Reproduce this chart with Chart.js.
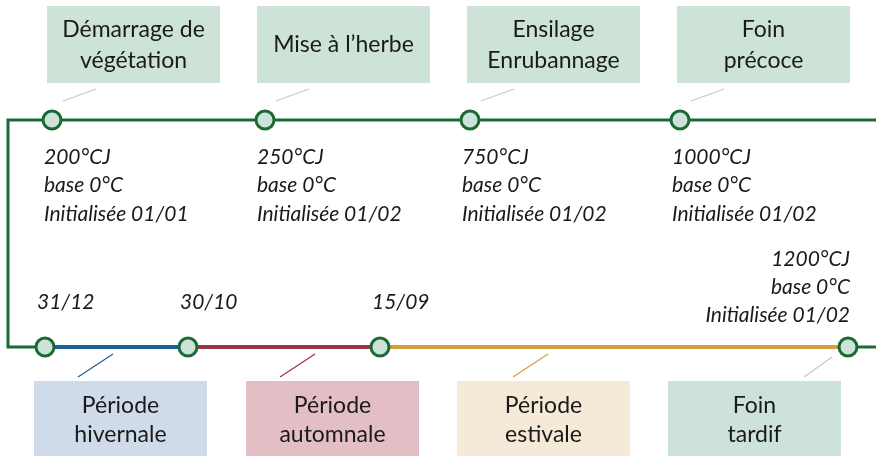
<!DOCTYPE html>
<html><head><meta charset="utf-8">
<script src="https://cdn.jsdelivr.net/npm/chart.js@4/dist/chart.umd.min.js"></script>
<style>html,body{margin:0;padding:0;background:#fff}#wrap{width:876px;height:456px}</style>
</head><body><div id="wrap"><canvas id="c" width="876" height="456"></canvas></div>
<script>
// Timeline milestones (positions along the timeline axis)
const topLabels = [["Démarrage de","végétation"],["Mise à l’herbe"],["Ensilage","Enrubannage"],["Foin","précoce"]];
const topPos = [52, 265, 470, 680];
const topSums = ["200°CJ","250°CJ","750°CJ","1000°CJ"];
const topBase = ["base 0°C","base 0°C","base 0°C","base 0°C"];
const topInit = ["Initialisée 01/01","Initialisée 01/02","Initialisée 01/02","Initialisée 01/02"];

const bottomPos = [45, 188, 380, 848];
const bottomDates = ["31/12","30/10","15/09"];
const lastInfo = ["1200°CJ","base 0°C","Initialisée 01/02"];
const periodLabels = [["Période","hivernale"],["Période","automnale"],["Période","estivale"],["Foin","tardif"]];
const periodColors = ["#1f5e99","#9c3343","#d19f3e"];
const periodFills = ["#cfdbe8","#e3bec5","#f5ead7","#cde3d9"];

const TOP_Y = 120, BOT_Y = 347, LEFT_X = 8, END_X = 876;
const GREEN = "#1b6a36", NODE_FILL = "#cde3d8", TEXT = "#1a1a1a";

const datasets = [];
// nodes (drawn on top)
datasets.push({order:0,data:topPos.map(x=>({x,y:TOP_Y})).concat(bottomPos.map(x=>({x,y:BOT_Y}))),
  showLine:false,pointRadius:9,pointHoverRadius:9,pointBackgroundColor:NODE_FILL,pointBorderColor:GREEN,pointBorderWidth:3});
// main green path
datasets.push({order:1,data:[{x:bottomPos[0],y:BOT_Y},{x:LEFT_X,y:BOT_Y},{x:LEFT_X,y:TOP_Y},{x:END_X,y:TOP_Y}],
  borderColor:GREEN,borderWidth:3,pointRadius:0,showLine:true,fill:false,tension:0,borderJoinStyle:'miter'});
for(let i=0;i<3;i++){
  datasets.push({order:1,data:[{x:bottomPos[i],y:BOT_Y},{x:bottomPos[i+1],y:BOT_Y}],borderColor:periodColors[i],borderWidth:4,pointRadius:0,showLine:true});
}
datasets.push({order:1,data:[{x:bottomPos[3],y:BOT_Y},{x:END_X,y:BOT_Y}],borderColor:GREEN,borderWidth:3,pointRadius:0,showLine:true});

const BOX_W = 173, BOX_H = 77;
const topOff=[-5,-8,-3,-3];
const boxL=[34,246,457,668];
const decor = {
  id:'decor',
  beforeDatasetsDraw(chart){
    const ctx=chart.ctx, xs=chart.scales.x, ys=chart.scales.y;
    ctx.save();
    topPos.forEach((p,i)=>{
      const x=xs.getPixelForValue(p)+topOff[i], y=ys.getPixelForValue(6);
      ctx.fillStyle=NODE_FILL; ctx.fillRect(x,y,BOX_W,BOX_H);
      const cx=xs.getPixelForValue(p);
      ctx.strokeStyle="#c8c8c8"; ctx.lineWidth=1.2;
      ctx.beginPath(); ctx.moveTo(cx+11,ys.getPixelForValue(101)); ctx.lineTo(cx+44,ys.getPixelForValue(89)); ctx.stroke();
    });
    const conn=[[113,78],[315,280],[548,513],[832,804]];
    const connC=periodColors.concat(["#c8c8c8"]);
    boxL.forEach((l,i)=>{
      const x=xs.getPixelForValue(l), y=ys.getPixelForValue(381);
      ctx.fillStyle=periodFills[i]; ctx.fillRect(x,y,BOX_W,BOX_H);
      ctx.strokeStyle=connC[i]; ctx.lineWidth=1.2;
      ctx.beginPath(); ctx.moveTo(xs.getPixelForValue(conn[i][0]),ys.getPixelForValue(i===3?357:354));
      ctx.lineTo(xs.getPixelForValue(conn[i][1]),ys.getPixelForValue(377)); ctx.stroke();
    });
    ctx.restore();
  },
  afterDatasetsDraw(chart){
    const ctx=chart.ctx, xs=chart.scales.x, ys=chart.scales.y;
    ctx.save();
    ctx.fillStyle=TEXT; ctx.textBaseline='middle';
    ctx.font='23px Lato'; ctx.textAlign='center';
    topPos.forEach((p,i)=>{
      const cx=xs.getPixelForValue(p)+topOff[i]+BOX_W/2;
      const lines=topLabels[i];
      const ys0 = lines.length===2?[30,61]:[45];
      lines.forEach((t,k)=>ctx.fillText(t,cx,ys.getPixelForValue(ys0[k])));
    });
    boxL.forEach((l,i)=>{
      const cx=xs.getPixelForValue(l)+BOX_W/2;
      periodLabels[i].forEach((t,k)=>ctx.fillText(t,cx,ys.getPixelForValue([406,435][k])));
    });
    ctx.font='italic 21px Lato'; ctx.textAlign='left';
    topPos.forEach((p,i)=>{
      const x=xs.getPixelForValue(p)-8;
      [topSums[i],topBase[i],topInit[i]].forEach((t,k)=>ctx.fillText(t,x,ys.getPixelForValue([157,185,214][k])));
    });
    bottomDates.forEach((t,i)=>ctx.fillText(t,xs.getPixelForValue(bottomPos[i])-8,ys.getPixelForValue(302)));
    ctx.textAlign='right';
    lastInfo.forEach((t,k)=>ctx.fillText(t,xs.getPixelForValue(850),ys.getPixelForValue([259,287,315][k])));
    ctx.restore();
  }
};

new Chart(document.getElementById('c'),{
  type:'scatter',
  data:{datasets},
  options:{
    responsive:false,animation:false,devicePixelRatio:1,
    layout:{padding:0,autoPadding:false},
    plugins:{legend:{display:false},tooltip:{enabled:false}},
    datasets:{scatter:{clip:false}},
    scales:{
      x:{type:'linear',min:0,max:876,display:false},
      y:{type:'linear',min:0,max:456,reverse:true,display:false}
    }
  },
  plugins:[decor]
});
</script></body></html>
